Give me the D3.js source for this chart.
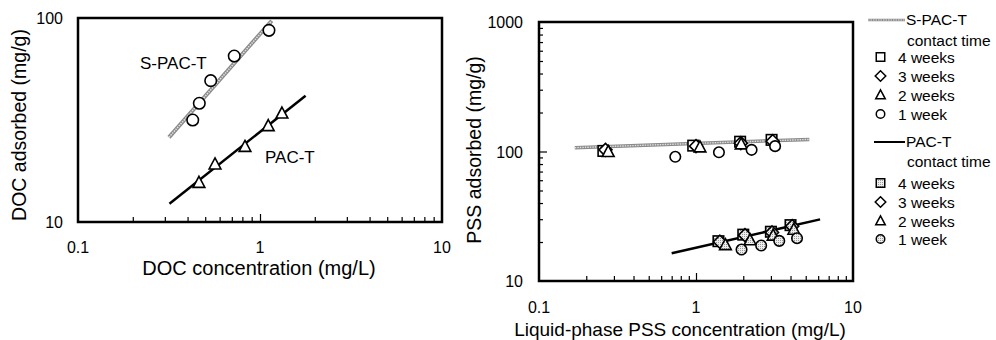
<!DOCTYPE html>
<html>
<head>
<meta charset="utf-8">
<script src="https://cdn.jsdelivr.net/npm/d3@7"></script>
<style>
  body { margin: 0; background: #fff; }
  svg { display: block; font-family: Arial, "Liberation Sans", sans-serif; }
</style>
</head>
<body>
<svg id="chart" width="996" height="340"></svg>
<script>
// ---------- DATA ----------
// Left panel: DOC isotherms
const docSpacX = [0.427, 0.464, 0.536, 0.722, 1.12];
const docSpacY = [31.6, 38.2, 49.3, 65.1, 87.0];
const docSpacLineX = [0.316, 1.16];
const docSpacLineY = [26.0, 97.0];
const docPacX = [0.462, 0.566, 0.827, 1.11, 1.32];
const docPacY = [15.6, 19.2, 23.4, 29.6, 34.1];
const docPacLineX = [0.318, 1.78];
const docPacLineY = [12.3, 41.6];

// Right panel: PSS isotherms, by contact time
const contactTimes = ["4 weeks", "3 weeks", "2 weeks", "1 week"];
const pssSpacX = [
  [0.257, 0.96, 1.91, 3.03],
  [0.265, 1.0, 1.93, 3.08],
  [0.276, 1.06, 1.94],
  [0.738, 1.40, 2.26, 3.19]
];
const pssSpacY = [
  [101, 111, 119, 123],
  [103, 110, 116, 120],
  [99.5, 108, 114],
  [91, 98.6, 103, 110]
];
const pssSpacLineX = [0.169, 5.27];
const pssSpacLineY = [107, 124];
const pssPacX = [
  [1.39, 2.0, 3.0, 4.0],
  [1.42, 2.05, 3.05, 4.1],
  [1.54, 2.21, 3.1, 4.2],
  [1.95, 2.60, 3.39, 4.40]
];
const pssPacY = [
  [20.3, 22.8, 24.0, 27.0],
  [20.1, 22.6, 23.7, 26.5],
  [19.0, 20.7, 22.5, 25.0],
  [17.5, 18.8, 20.4, 21.4]
];
const pssPacLineX = [0.70, 6.17];
const pssPacLineY = [16.4, 29.9];

const leftXTicks = [0.1, 1, 10];
const leftYTicks = [10, 100];
const rightXTicks = [0.1, 1, 10];
const rightYTicks = [10, 100, 1000];

// ---------- DRAWING ----------
const svg = d3.select("#chart");
const defs = svg.append("defs");
const pat = defs.append("pattern").attr("id", "dots")
  .attr("patternUnits", "userSpaceOnUse").attr("width", 2).attr("height", 2);
pat.append("rect").attr("width", 2).attr("height", 2).attr("fill", "#eee");
pat.append("rect").attr("width", 1).attr("height", 1).attr("fill", "#999");

const shapes = ["square", "diamond", "triangle", "circle"];

function marker(g, shape, x, y, size, fill) {
  let s;
  if (shape === "square") {
    s = g.append("rect").attr("x", x - size / 2).attr("y", y - size / 2)
      .attr("width", size).attr("height", size);
  } else if (shape === "diamond") {
    const h = size * 0.62;
    s = g.append("path").attr("d", `M${x},${y - h}L${x + h},${y}L${x},${y + h}L${x - h},${y}Z`);
  } else if (shape === "triangle") {
    const w = size * 1.12, ht = size;
    s = g.append("path").attr("d",
      `M${x},${y - ht * 0.6}L${x + w / 2},${y + ht * 0.45}L${x - w / 2},${y + ht * 0.45}Z`);
  } else {
    s = g.append("circle").attr("cx", x).attr("cy", y).attr("r", size / 2);
  }
  s.attr("fill", fill).attr("stroke", "#000").attr("stroke-width", 1.6);
  return s;
}

function hatchedLine(g, x1, y1, x2, y2, w) {
  g.append("line").attr("x1", x1).attr("y1", y1).attr("x2", x2).attr("y2", y2)
    .attr("stroke", "#8a8a8a").attr("stroke-width", w);
  g.append("line").attr("x1", x1).attr("y1", y1).attr("x2", x2).attr("y2", y2)
    .attr("stroke", "#e0e0e0").attr("stroke-width", w * 0.4)
    .attr("stroke-dasharray", "1.5,1");
}

function solidLine(g, x1, y1, x2, y2, w) {
  g.append("line").attr("x1", x1).attr("y1", y1).attr("x2", x2).attr("y2", y2)
    .attr("stroke", "#000").attr("stroke-width", w);
}

function minorValues(dom) {
  const out = [];
  for (let d = dom[0]; d < dom[1]; d *= 10) {
    for (let k = 2; k <= 9; k++) out.push(d * k);
  }
  return out;
}

// ----- Left panel -----
const lx = d3.scaleLog().domain([0.1, 10]).range([78, 442]);
const ly = d3.scaleLog().domain([10, 100]).range([222, 18]);
const L = svg.append("g");

L.append("g").attr("transform", `translate(0,222)`)
  .call(d3.axisTop(lx).tickValues(minorValues([0.1, 10])).tickSize(5).tickFormat(""))
  .call(g => g.select(".domain").remove())
  .call(g => g.selectAll("line").attr("stroke-width", 1.2));
L.append("g").attr("transform", `translate(0,222)`)
  .call(d3.axisTop(lx).tickValues([1]).tickSize(8).tickFormat(""))
  .call(g => g.select(".domain").remove())
  .call(g => g.selectAll("line").attr("stroke-width", 1.2));

L.append("rect").attr("x", 78).attr("y", 18).attr("width", 364).attr("height", 204)
  .attr("fill", "none").attr("stroke", "#000").attr("stroke-width", 2.5);

L.selectAll(".xt").data(leftXTicks).join("text")
  .attr("x", d => lx(d)).attr("y", 253).attr("text-anchor", "middle")
  .attr("font-size", 16).text(d => d3.format("")(d));
L.selectAll(".yt").data(leftYTicks).join("text")
  .attr("x", 63).attr("y", d => ly(d) + 6).attr("text-anchor", "end")
  .attr("font-size", 16).text(d => d);

L.append("text").attr("x", 259).attr("y", 275).attr("text-anchor", "middle")
  .attr("font-size", 20).text("DOC concentration (mg/L)");
L.append("text").attr("transform", "translate(26,125) rotate(-90)")
  .attr("text-anchor", "middle").attr("font-size", 19.5).text("DOC adsorbed (mg/g)");

hatchedLine(L, lx(docSpacLineX[0]), ly(docSpacLineY[0]), lx(docSpacLineX[1]), ly(docSpacLineY[1]), 4);
solidLine(L, lx(docPacLineX[0]), ly(docPacLineY[0]), lx(docPacLineX[1]), ly(docPacLineY[1]), 2.5);

docSpacX.forEach((x, i) => marker(L, "circle", lx(x), ly(docSpacY[i]), 11.5, "#fff"));
docPacX.forEach((x, i) => marker(L, "triangle", lx(x), ly(docPacY[i]), 10.5, "#fff"));

L.append("text").attr("x", 140).attr("y", 69).attr("font-size", 17).text("S-PAC-T");
L.append("text").attr("x", 265).attr("y", 163).attr("font-size", 17).text("PAC-T");

// ----- Right panel -----
const rx = d3.scaleLog().domain([0.1, 10]).range([539, 853]);
const ry = d3.scaleLog().domain([10, 1000]).range([281, 22]);
const R = svg.append("g");

R.append("g").attr("transform", `translate(0,281)`)
  .call(d3.axisTop(rx).tickValues(minorValues([0.1, 10])).tickSize(5).tickFormat(""))
  .call(g => g.select(".domain").remove())
  .call(g => g.selectAll("line").attr("stroke-width", 1.2));
R.append("g").attr("transform", `translate(0,281)`)
  .call(d3.axisTop(rx).tickValues([1]).tickSize(8).tickFormat(""))
  .call(g => g.select(".domain").remove())
  .call(g => g.selectAll("line").attr("stroke-width", 1.2));
R.append("g").attr("transform", `translate(539,0)`)
  .call(d3.axisRight(ry).tickValues(minorValues([10, 1000])).tickSize(4).tickFormat(""))
  .call(g => g.select(".domain").remove())
  .call(g => g.selectAll("line").attr("stroke-width", 1.2));
R.append("g").attr("transform", `translate(539,0)`)
  .call(d3.axisRight(ry).tickValues([100]).tickSize(8).tickFormat(""))
  .call(g => g.select(".domain").remove())
  .call(g => g.selectAll("line").attr("stroke-width", 1.2));

R.append("rect").attr("x", 539).attr("y", 22).attr("width", 314).attr("height", 259)
  .attr("fill", "none").attr("stroke", "#000").attr("stroke-width", 2.5);

R.selectAll(".xt").data(rightXTicks).join("text")
  .attr("x", d => rx(d)).attr("y", 313).attr("text-anchor", "middle")
  .attr("font-size", 16).text(d => d3.format("")(d));
R.selectAll(".yt").data(rightYTicks).join("text")
  .attr("x", 523).attr("y", d => ry(d) + 6).attr("text-anchor", "end")
  .attr("font-size", 16).text(d => d);

R.append("text").attr("x", 680).attr("y", 336).attr("text-anchor", "middle")
  .attr("font-size", 19).text("Liquid-phase PSS concentration (mg/L)");
R.append("text").attr("transform", "translate(481,150) rotate(-90)")
  .attr("text-anchor", "middle").attr("font-size", 19.5).text("PSS adsorbed (mg/g)");

hatchedLine(R, rx(pssSpacLineX[0]), ry(pssSpacLineY[0]), rx(pssSpacLineX[1]), ry(pssSpacLineY[1]), 3.5);
solidLine(R, rx(pssPacLineX[0]), ry(pssPacLineY[0]), rx(pssPacLineX[1]), ry(pssPacLineY[1]), 2.5);

shapes.forEach((sh, k) => {
  pssSpacX[k].forEach((x, i) => marker(R, sh, rx(x), ry(pssSpacY[k][i]), 10.5, "#fff"));
});
shapes.forEach((sh, k) => {
  pssPacX[k].forEach((x, i) => marker(R, sh, rx(x), ry(pssPacY[k][i]), 10.5, "url(#dots)"));
});

// ----- Legend -----
const G = svg.append("g").attr("font-size", 15.5);
hatchedLine(G, 868, 20, 905, 20, 2.5);
G.append("text").attr("x", 906).attr("y", 25).text("S-PAC-T");
G.append("text").attr("x", 907).attr("y", 46).text("contact time");
const legY1 = [57, 76, 95, 114];
shapes.forEach((sh, k) => {
  marker(G, sh, 880.5, legY1[k], 8.5, "#fff").attr("stroke-width", 1.5);
  G.append("text").attr("x", 898).attr("y", legY1[k] + 5.5).text(contactTimes[k]);
});
solidLine(G, 874, 142, 905, 142, 2);
G.append("text").attr("x", 906).attr("y", 147).text("PAC-T");
G.append("text").attr("x", 907).attr("y", 167).text("contact time");
const legY2 = [183, 202, 221, 239];
shapes.forEach((sh, k) => {
  marker(G, sh, 880.5, legY2[k], 8.5, (sh === "square" || sh === "circle") ? "url(#dots)" : "#fff")
    .attr("stroke-width", 1.5);
  G.append("text").attr("x", 898).attr("y", legY2[k] + 5.5).text(contactTimes[k]);
});
</script>
</body>
</html>
